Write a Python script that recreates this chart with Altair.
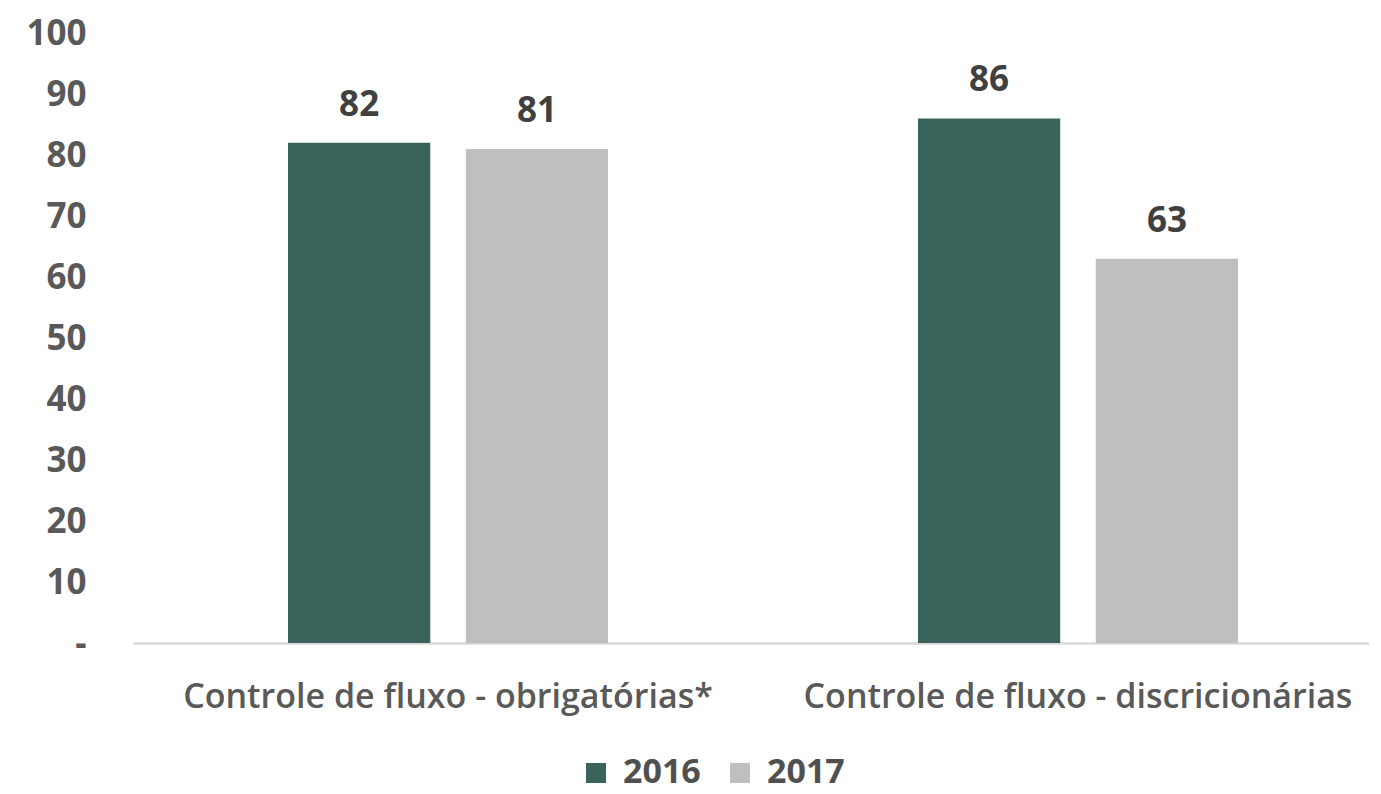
import altair as alt
import pandas as pd

categories = ["Controle de fluxo - obrigatórias*", "Controle de fluxo - discricionárias"]
years = ["2016", "2017"]
values_2016 = [82, 86]
values_2017 = [81, 63]
y_ticks = [0, 10, 20, 30, 40, 50, 60, 70, 80, 90, 100]
colors = ["#3A635C", "#BFBFBF"]

rows = []
for i, c in enumerate(categories):
    rows.append({"cat": c, "year": years[0], "value": values_2016[i]})
    rows.append({"cat": c, "year": years[1], "value": values_2017[i]})
df = pd.DataFrame(rows)

FONT = "Open Sans"

x = alt.X(
    "cat:N", sort=categories, title=None,
    scale=alt.Scale(paddingInner=0.492, paddingOuter=0.227, align=0.542),
    axis=alt.Axis(labelAngle=0, labelFont=FONT, labelFontSize=34, labelColor="#595959",
                  labelFontWeight=600, labelPadding=37, ticks=False,
                  domainColor="#D9D9D9", domainWidth=2.5, labelLimit=800),
)
xo = alt.XOffset("year:N", sort=years, scale=alt.Scale(paddingInner=0.2, paddingOuter=0))
y = alt.Y(
    "value:Q", title=None, scale=alt.Scale(domain=[0, 100]),
    axis=alt.Axis(values=y_ticks, labelExpr="datum.value == 0 ? '-' : datum.label",
                  grid=False, domain=False, ticks=False, labelFont=FONT, labelFontSize=35,
                  labelFontWeight="bold", labelColor="#595959", labelPadding=47),
)
color = alt.Color(
    "year:N", sort=years, scale=alt.Scale(domain=years, range=colors),
    legend=alt.Legend(title=None, orient="none", legendX=446, legendY=723, direction="horizontal",
                      symbolType="square", symbolSize=400, symbolStrokeWidth=0,
                      labelFont=FONT, labelFontSize=34, labelFontWeight="bold",
                      labelColor="#505050", columnPadding=22, labelOffset=10),
)

bars = alt.Chart(df).mark_bar().encode(x=x, xOffset=xo, y=y, color=color)
text = alt.Chart(df).mark_text(
    baseline="alphabetic", dy=-27, font=FONT, fontSize=35, fontWeight="bold", color="#404040"
).encode(x=x, xOffset=xo, y=y, text="value:Q")

chart = (
    alt.layer(bars, text)
    .properties(width=1236, height=610,
                padding={"left": 17, "top": 8, "right": 0, "bottom": 4})
    .configure_view(stroke=None)
)
chart.save("out.html", embed_options={"renderer": "svg", "actions": False})
